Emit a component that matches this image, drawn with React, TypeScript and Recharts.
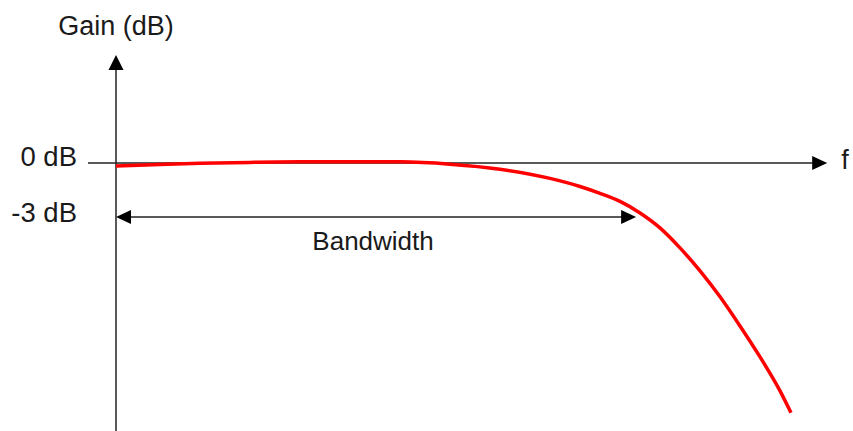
import { LineChart, Line, XAxis, YAxis, ReferenceLine } from 'recharts'

// frequency (arbitrary units, 0..100 over the plot) and gain in dB
const freq = [0, 6.29, 12, 19.14, 26.29, 33.43, 40.57, 47.71, 54.86, 62, 66.29, 69.14, 72, 74.86, 77.71, 80.57, 83.43, 86.29, 89.14, 92, 94.86, 96.43]
const gainDb = [-0.17, -0.08, -0.02, 0.03, 0.06, 0.07, 0.06, -0.07, -0.35, -0.86, -1.31, -1.69, -2.14, -2.78, -3.61, -4.72, -6, -7.44, -9.06, -10.78, -12.67, -13.89]

const yLabels = ['0 dB', '-3 dB']
const cutoffDb = -3
const bandwidthF = 74.3
const axisStartF = -4
const axisEndF = 101.6
const yMin = -14.9
const yMax = 6

const data = freq.map((f, i) => ({ f, gain: gainDb[i] }))

const INK = '#222'
const FONT = '"Liberation Sans", Arial, sans-serif'

function VerticalAxis(props: any) {
    const { x1, y1, x2, y2 } = props
    const top = Math.min(y1, y2)
    const bottom = Math.max(y1, y2)
    return (
        <g>
            <line x1={x1} y1={bottom} x2={x2} y2={top + 12} stroke={INK} strokeWidth={1.5} />
            <polygon points={`${x1},${top} ${x1 - 7.5},${top + 15} ${x1 + 7.5},${top + 15}`} fill="#000" />
            <text x={x1} y={top - 20} textAnchor="middle" fontFamily={FONT} fontSize={27} fill="#1a1a1a">Gain (dB)</text>
        </g>
    )
}

function HorizontalAxis(props: any) {
    const { x1, y1, x2 } = props
    return (
        <g>
            <line x1={x1} y1={y1} x2={x2 - 12} y2={y1} stroke={INK} strokeWidth={1.5} />
            <polygon points={`${x2},${y1} ${x2 - 15},${y1 - 7} ${x2 - 15},${y1 + 7}`} fill="#000" />
            <text x={x2 + 14} y={y1 + 6} fontFamily={FONT} fontSize={27} fill="#1a1a1a">f</text>
            <text x={x1 - 11} y={y1 + 3} textAnchor="end" fontFamily={FONT} fontSize={27.5} fill="#1a1a1a">{yLabels[0]}</text>
        </g>
    )
}

function BandwidthArrow(props: any) {
    const { x1, y1, x2 } = props
    return (
        <g>
            <line x1={x1 + 10} y1={y1} x2={x2 - 10} y2={y1} stroke={INK} strokeWidth={1.5} />
            <polygon points={`${x1},${y1} ${x1 + 15},${y1 - 7} ${x1 + 15},${y1 + 7}`} fill="#000" />
            <polygon points={`${x2},${y1} ${x2 - 15},${y1 - 7} ${x2 - 15},${y1 + 7}`} fill="#000" />
            <text x={(x1 + x2) / 2 - 3} y={y1 + 33} textAnchor="middle" fontFamily={FONT} fontSize={26} fill="#1a1a1a">Bandwidth</text>
            <text x={x1 - 39} y={y1 + 5} textAnchor="end" fontFamily={FONT} fontSize={27.5} fill="#1a1a1a">{yLabels[1]}</text>
        </g>
    )
}

export default function App() {
    return (
        <div style={{ position: 'absolute', left: 0, top: 0, background: '#fff' }}>
            <LineChart width={853} height={431} data={data} margin={{ top: 55, right: 37, bottom: 0, left: 116 }}>
                <XAxis dataKey="f" type="number" domain={[0, 100]} hide allowDataOverflow />
                <YAxis type="number" domain={[yMin, yMax]} hide allowDataOverflow />
                <ReferenceLine segment={[{ x: 0, y: yMin }, { x: 0, y: yMax }]} ifOverflow="visible" shape={VerticalAxis} />
                <ReferenceLine segment={[{ x: axisStartF, y: 0 }, { x: axisEndF, y: 0 }]} ifOverflow="visible" shape={HorizontalAxis} />
                <ReferenceLine segment={[{ x: 0, y: cutoffDb }, { x: bandwidthF, y: cutoffDb }]} ifOverflow="visible" shape={BandwidthArrow} />
                <Line type="monotone" dataKey="gain" stroke="#ff0000" strokeWidth={3.5} dot={false} isAnimationActive={false} />
            </LineChart>
        </div>
    )
}
